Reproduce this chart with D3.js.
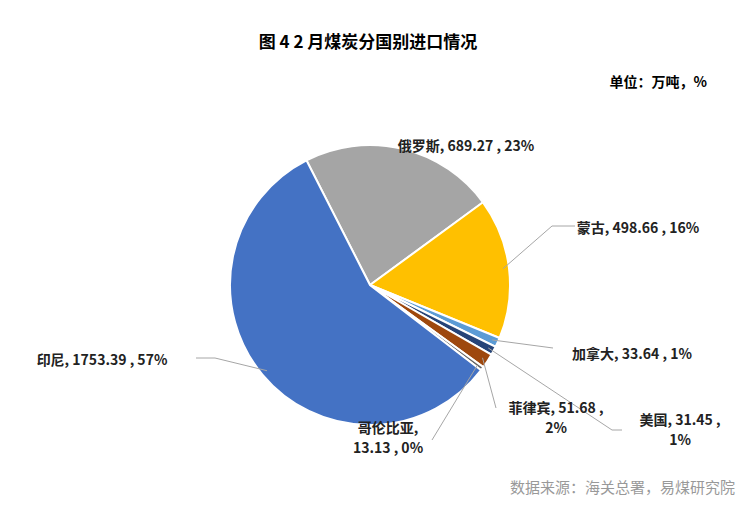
<!DOCTYPE html>
<html><head><meta charset="utf-8">
<script src="https://cdn.jsdelivr.net/npm/d3@7"></script>
<style>body{margin:0;background:#fff;font-family:"Noto Sans CJK SC","Liberation Sans",sans-serif}</style>
</head><body>
<script>
var countries = ["俄罗斯", "蒙古", "加拿大", "美国", "菲律宾", "哥伦比亚", "印尼"];
var values = [689.27, 498.66, 33.64, 31.45, 51.68, 13.13, 1753.39];
var pctLabels = ["23%", "16%", "1%", "1%", "2%", "0%", "57%"];
var colors = ["#a5a5a5", "#ffc000", "#5b9bd5", "#264478", "#9e480e", "#636363", "#4472c4"];
// label text lines and anchor positions
var labelLines = [
  ["俄罗斯, 689.27 , 23%"], ["蒙古, 498.66 , 16%"], ["加拿大, 33.64 , 1%"],
  ["美国, 31.45 ,", "1%"], ["菲律宾, 51.68 ,", "2%"], ["哥伦比亚,", "13.13 , 0%"],
  ["印尼, 1753.39 , 57%"]
];
var labelPos = [[466,146],[638,228],[632,354],[680,430],[556,418],[388,438],[102,360]];
var linePts = [null,[[575,226],[552,226]],[[553,348]],[[622,430],[612,430]],[[496,408]],[[432,440]],[[196,358],[215,358]]];

var w = 750, h = 505, cx = 370, cy = 285, r = 140;
var svg = d3.select("body").append("svg").attr("width", w).attr("height", h);

svg.append("text").attr("x", 368).attr("y", 48).attr("text-anchor", "middle")
  .attr("font-size", 17).attr("font-weight", "bold").text("图 4  2 月煤炭分国别进口情况");
svg.append("text").attr("x", 707).attr("y", 87).attr("text-anchor", "end")
  .attr("font-size", 14).attr("font-weight", "bold").text("单位：万吨，%");
svg.append("text").attr("x", 735).attr("y", 493).attr("text-anchor", "end")
  .attr("font-size", 15).attr("fill", "#999").text("数据来源：海关总署，易煤研究院");

var start = -27 * Math.PI / 180;
var pie = d3.pie().sort(null).startAngle(start).endAngle(start + 2 * Math.PI);
var arcs = pie(values);
var arc = d3.arc().innerRadius(0).outerRadius(r);
var g = svg.append("g").attr("transform", "translate(" + cx + "," + cy + ")");
g.selectAll("path").data(arcs).enter().append("path")
  .attr("d", arc).attr("fill", function (d, i) { return colors[i]; })
  .attr("stroke", "#fff").attr("stroke-width", 2);

arcs.forEach(function (d, i) {
  if (linePts[i]) {
    var a = (d.startAngle + d.endAngle) / 2;
    var p = [cx + Math.sin(a) * (r - 6), cy - Math.cos(a) * (r - 6)];
    var pts = linePts[i].concat([p]);
    svg.append("path").attr("d", d3.line()(pts)).attr("fill", "none")
      .attr("stroke", "#a6a6a6").attr("stroke-width", 1);
  }
  var t = svg.append("text").attr("text-anchor", "middle").attr("font-size", 14)
    .attr("font-weight", "bold").attr("fill", "#222");
  labelLines[i].forEach(function (s, k) {
    t.append("tspan").attr("x", labelPos[i][0]).attr("y", labelPos[i][1] + k * 20 - (labelLines[i].length - 1) * 10 + 5).text(s);
  });
});
</script>
</body></html>
